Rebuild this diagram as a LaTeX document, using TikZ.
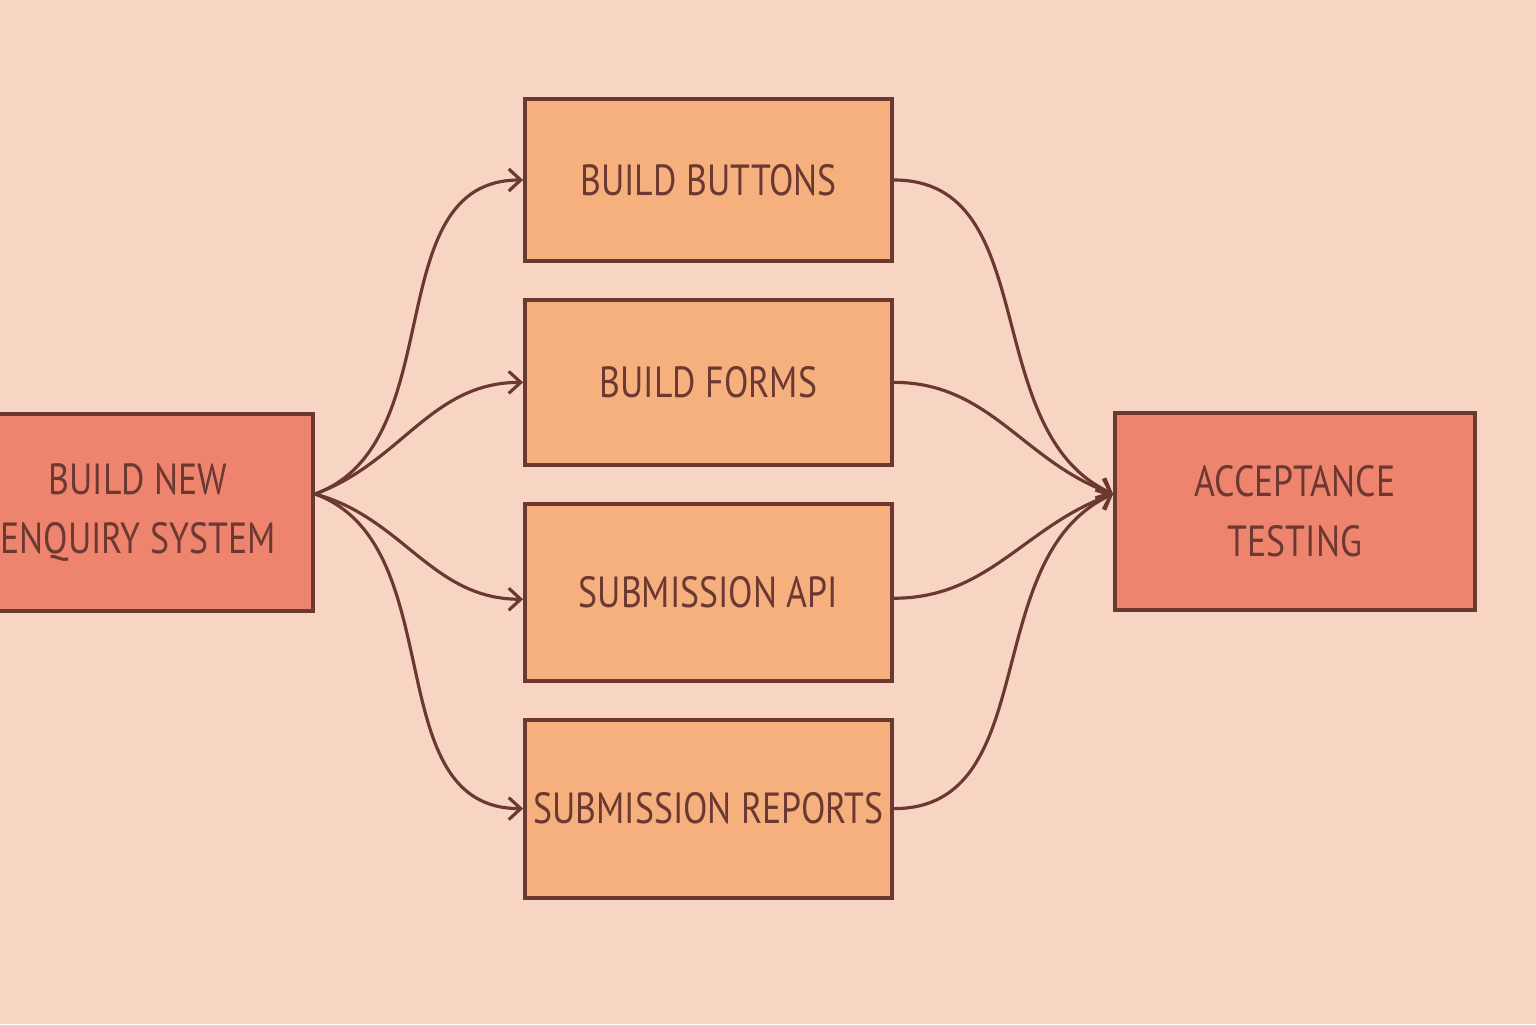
\documentclass[tikz,border=0pt]{standalone}
\usepackage{fontspec}
\setmainfont[FakeStretch=0.82]{PT Sans}
\usetikzlibrary{arrows.meta,positioning}
\definecolor{paper}{RGB}{248,213,194}
\definecolor{inkbrown}{RGB}{107,56,50}
\definecolor{taskfill}{RGB}{245,176,126}
\definecolor{endfill}{RGB}{238,132,110}
\tikzset{
  blk/.style={draw=inkbrown,rectangle,line width=1.1pt,align=center,inner xsep=2pt,text=inkbrown,font=\fontsize{12.4}{17}\selectfont},
  taskblk/.style={blk,fill=taskfill,minimum width=3.67cm},
  endblk/.style={blk,fill=endfill,minimum height=1.97cm},
  arr/.style={-{Straight Barb[length=1.2mm,width=2.2mm]},draw=inkbrown,line width=0.9pt}
}

\begin{document}
\begin{tikzpicture}[node distance=0.35cm]
  \fill[paper] (0,0) rectangle (15.36,10.24);
  \useasboundingbox (0,0) rectangle (15.36,10.24);

  \node[endblk, minimum width=3.5cm] (sys) at (1.38,5.115) {BUILD NEW\\ENQUIRY SYSTEM};
  \node[taskblk, minimum height=1.62cm] (btn) at (7.085,8.44) {BUILD BUTTONS};
  \node[taskblk, minimum height=1.65cm, below=of btn] (frm) {BUILD FORMS};
  \node[taskblk, minimum height=1.77cm, below=of frm] (api) {SUBMISSION API};
  \node[taskblk, minimum height=1.78cm, below=of api] (rep) {SUBMISSION REPORTS};
  \node[endblk, minimum width=3.6cm] (acc) at (12.95,5.125) {ACCEPTANCE\\TESTING};

  \coordinate (fan) at ([yshift=1.85mm]sys.east);
  \coordinate (join) at ([yshift=1.75mm]acc.west);

  % fan out to the four tasks
  \draw[arr] (fan) to[out=20,in=180] (btn.west);
  \draw[arr] (fan) to[out=20,in=180] (frm.west);
  \draw[arr] (fan) to[out=-15,in=180] ([yshift=-0.7mm]api.west);
  \draw[arr] (fan) to[out=-20,in=180] (rep.west);

  % join into testing
  \draw[arr] (btn.east) to[out=0,in=155] (join);
  \draw[arr] (frm.east) to[out=0,in=160] (join);
  \draw[arr] ([yshift=-0.6mm]api.east) to[out=0,in=200] (join);
  \draw[arr] (rep.east) to[out=0,in=205] (join);
\end{tikzpicture}
\end{document}
